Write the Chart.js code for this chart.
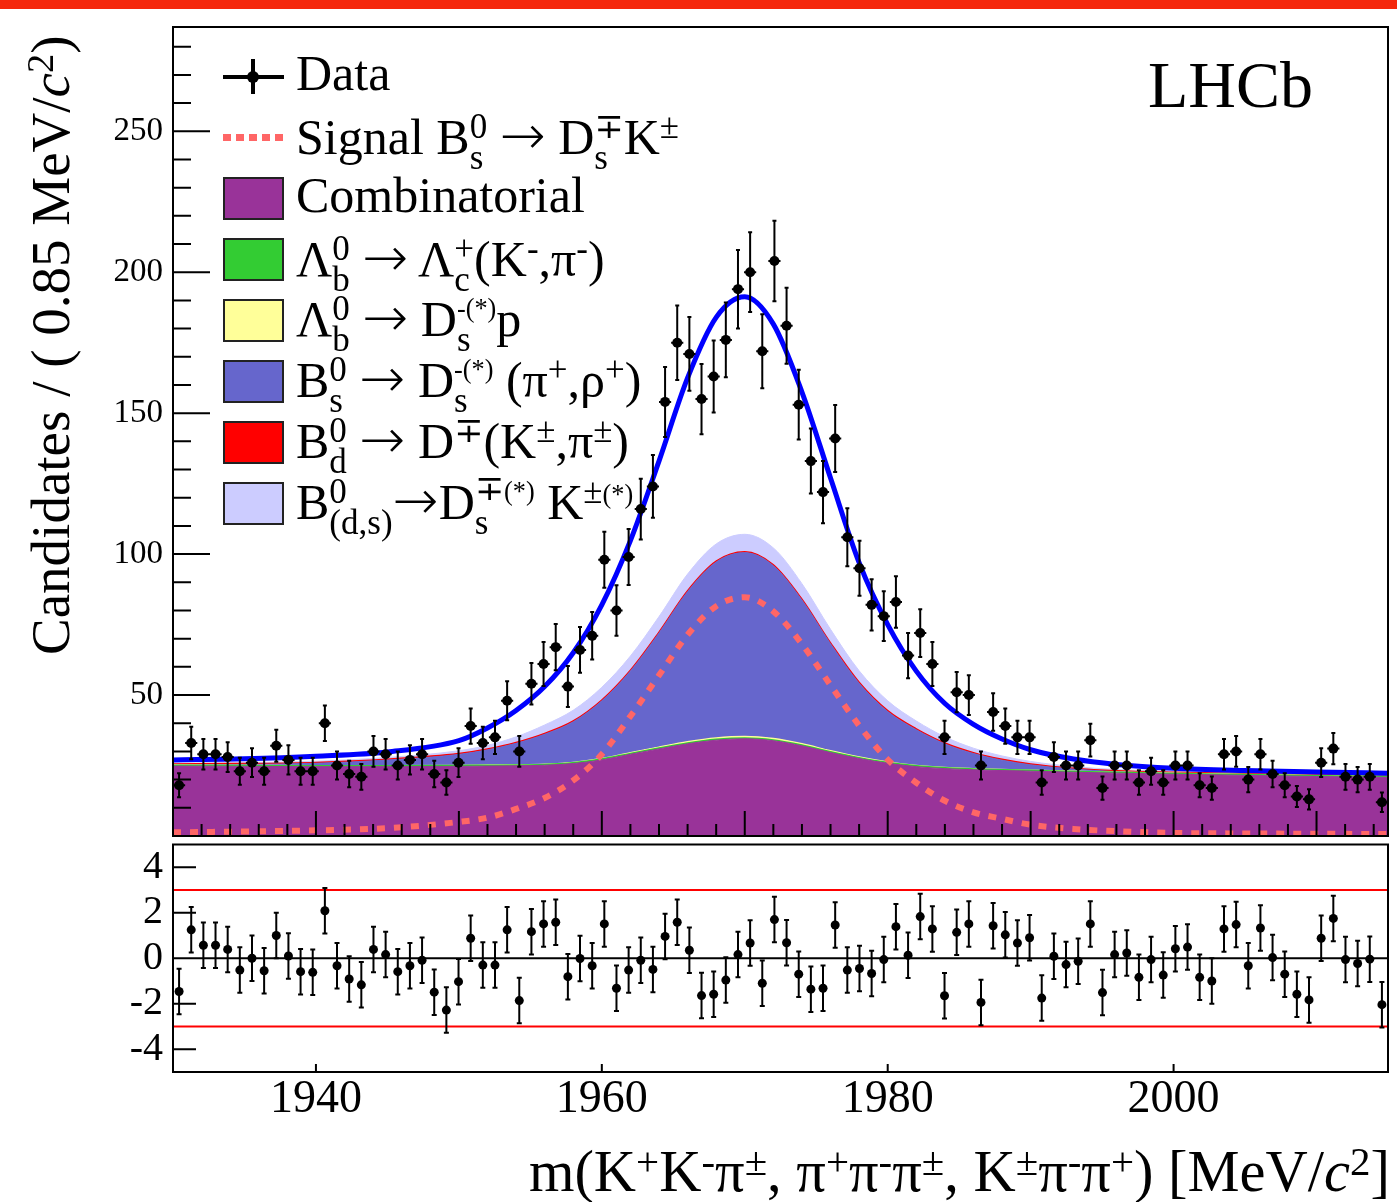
<!DOCTYPE html>
<html>
<head>
<meta charset="utf-8">
<title>LHCb - m(KKpi) fit</title>
<script src="https://cdn.jsdelivr.net/npm/chart.js@4.4.1/dist/chart.umd.min.js"></script>
<style>
  body { margin: 0; width: 1397px; height: 1202px; position: relative; overflow: hidden; background: #fff;
         font-family: 'Liberation Serif', 'DejaVu Serif', serif; color: #000; }
  canvas { position: absolute; left: 0; }
  #topBar { position: absolute; left: 0; top: 0; width: 1397px; height: 9px; background: #f5280c; }
  .row { position: absolute; left: 296px; font-size: 50px; line-height: 100px; white-space: nowrap; }
  .ss { display: inline-block; font-size: 0.7em; line-height: 31px; vertical-align: -15px; }
  .sp { font-size: 0.7em; vertical-align: 16px; line-height: 0; }
  .tiny { font-size: 0.75em; }
  .arr { font-family: 'DejaVu Sans', sans-serif; font-size: 1.1em; font-weight: 200; }
  .sw { position: absolute; left: 223px; width: 57px; height: 39px; border: 2px solid #222; }
  .blk { position: absolute; background: #000; }
  #ytitle { position: absolute; left: 1px; top: 655px; font-size: 55px; line-height: 100px; white-space: nowrap;
            transform-origin: 0 0; transform: rotate(-90deg); }
  #xtitle { position: absolute; right: 7px; top: 1122px; font-size: 58.5px; line-height: 100px; white-space: nowrap; }
  #lhcb { position: absolute; left: 1148px; top: 35px; font-size: 66px; line-height: 100px; }
</style>
</head>
<body>
<div id="topBar"></div>
<canvas id="massChart" width="1397" height="841" style="top:0"></canvas>
<canvas id="pullChart" width="1397" height="362" style="top:840px"></canvas>

<!-- legend -->
<div class="blk" style="left:223px;top:75px;width:61px;height:4px"></div>
<div class="blk" style="left:251px;top:59px;width:4px;height:35px"></div>
<div class="blk" style="left:247px;top:71px;width:12px;height:12px;border-radius:6px"></div>
<div style="position:absolute;left:223px;top:134px;width:61px;height:7px;background:repeating-linear-gradient(90deg,#ff6666 0 8px,transparent 8px 13px)"></div>
<div class="sw" style="top:177px;background:#993399"></div>
<div class="sw" style="top:238px;background:#33cc33"></div>
<div class="sw" style="top:299px;background:#ffff99"></div>
<div class="sw" style="top:360px;background:#6666cc"></div>
<div class="sw" style="top:421px;background:#ff0000"></div>
<div class="sw" style="top:482px;background:#ccccff"></div>

<div class="row" style="top:23px">Data</div>
<div class="row" style="top:85px">Signal B<span class="ss">0<br>s</span> <span class="arr">&#8594;</span> D<span class="ss">&#8723;<br>s</span>K<span class="sp">&#177;</span></div>
<div class="row" style="top:145px">Combinatorial</div>
<div class="row" style="top:207px">&#923;<span class="ss">0<br>b</span> <span class="arr">&#8594;</span> &#923;<span class="ss">+<br>c</span>(K<span class="sp">-</span>,&#960;<span class="sp">-</span>)</div>
<div class="row" style="top:267px">&#923;<span class="ss">0<br>b</span> <span class="arr">&#8594;</span> D<span class="ss"><span class="tiny">-(*)</span><br>s</span>p</div>
<div class="row" style="top:328px">B<span class="ss">0<br>s</span> <span class="arr">&#8594;</span> D<span class="ss"><span class="tiny">-(*)</span><br>s</span> (&#960;<span class="sp">+</span>,&#961;<span class="sp">+</span>)</div>
<div class="row" style="top:389px">B<span class="ss">0<br>d</span> <span class="arr">&#8594;</span> D<span class="sp">&#8723;</span>(K<span class="sp">&#177;</span>,&#960;<span class="sp">&#177;</span>)</div>
<div class="row" style="top:450px">B<span class="ss">0<br>(d,s)</span><span class="arr">&#8594;</span>D<span class="ss">&#8723;<span class="tiny">(*)</span><br>s</span> K<span class="sp">&#177;<span class="tiny">(*)</span></span></div>

<div id="lhcb">LHCb</div>
<div id="ytitle">Candidates / ( 0.85 MeV/<i>c</i><span class="sp">2</span>)</div>
<div id="xtitle">m(K<span class="sp">+</span>K<span class="sp">-</span>&#960;<span class="sp">&#177;</span>, &#960;<span class="sp">+</span>&#960;<span class="sp">-</span>&#960;<span class="sp">&#177;</span>, K<span class="sp">&#177;</span>&#960;<span class="sp">-</span>&#960;<span class="sp">+</span>) [MeV/<i>c</i><span class="sp">2</span>]</div>

<script>
// histogram binning
const massLow = 1930, massHigh = 2015, binWidth = 0.85;

// candidates per 0.85 MeV bin
const counts = [18, 33, 29, 29, 28, 23, 26, 23, 32, 27,
                23, 23, 40, 25, 22, 21, 30, 29, 25, 27,
                29, 22, 19, 26, 39, 33, 35, 48, 30, 54,
                61, 67, 53, 66, 71, 98, 80, 99, 116, 124,
                154, 175, 171, 155, 163, 176, 194, 200, 172, 204,
                181, 153, 133, 122, 141, 106, 95, 82, 78, 83,
                64, 72, 61, 35, 51, 50, 25, 44, 39, 35,
                35, 19, 28, 25, 25, 34, 17, 25, 25, 19,
                23, 19, 25, 25, 18, 17, 29, 30, 20, 29,
                22, 18, 14, 13, 26, 31, 21, 20, 21, 12];

// pull per bin
const pulls = [-1.46, 1.25, 0.57, 0.57, 0.39, -0.52, 0.0, -0.55, 1.0, 0.10,
               -0.59, -0.62, 2.09, -0.33, -0.91, -1.17, 0.39, 0.16, -0.59, -0.33,
               -0.09, -1.49, -2.28, -1.03, 0.88, -0.30, -0.30, 1.25, -1.86, 1.17,
               1.51, 1.58, -0.81, -0.01, -0.33, 1.51, -1.32, -0.52, -0.09, -0.49,
               0.96, 1.58, 0.35, -1.64, -1.58, -0.96, 0.16, 0.67, -1.10, 1.70,
               0.68, -0.70, -1.36, -1.32, 1.46, -0.52, -0.45, -0.67, -0.06, 1.39,
               0.13, 1.83, 1.29, -1.65, 1.14, 1.51, -1.94, 1.43, 1.03, 0.67,
               0.90, -1.75, 0.09, -0.28, -0.13, 1.51, -1.51, 0.16, 0.23, -0.84,
               -0.06, -0.74, 0.42, 0.49, -0.84, -1.00, 1.29, 1.48, -0.33, 1.33,
               0.03, -0.70, -1.58, -1.83, 0.88, 1.75, -0.06, -0.23, -0.04, -2.04];

// fit components, sampled at these masses
const curveMass = [1930, 1935, 1940, 1945, 1950, 1952, 1954, 1956, 1958, 1960,
                   1962, 1964, 1966, 1968, 1970, 1972, 1974, 1976, 1978, 1980,
                   1982, 1984, 1986, 1988, 1990, 1993, 1996, 2000, 2005, 2010, 2015];
const combinatorial = [24.8, 24.7, 24.6, 24.6, 24.7, 24.8, 24.9, 25.1, 25.7, 27.0,
                       29.0, 30.9, 32.7, 34.0, 34.5, 33.8, 32.0, 29.6, 27.5, 25.8,
                       24.6, 23.9, 23.5, 23.2, 23.0, 22.6, 22.3, 21.9, 21.5, 21.1, 20.8];
const lambdaLc = [0.3, 0.3, 0.3, 0.3, 0.3, 0.3, 0.3, 0.3, 0.3, 0.3,
                  0.3, 0.3, 0.3, 0.3, 0.3, 0.3, 0.3, 0.3, 0.3, 0.3,
                  0.3, 0.3, 0.3, 0.3, 0.3, 0.3, 0.3, 0.3, 0.3, 0.3, 0.3];
const lambdaDsp = [0.05, 0.05, 0.05, 0.05, 0.05, 0.06, 0.07, 0.09, 0.12, 0.17,
                   0.24, 0.33, 0.42, 0.5, 0.53, 0.5, 0.42, 0.32, 0.23, 0.16,
                   0.11, 0.08, 0.06, 0.05, 0.05, 0.04, 0.04, 0.04, 0.04, 0.04, 0.04];
const bsDsPi = [0.1, 0.35, 0.85, 2.0, 3.9, 5.4, 7.6, 10.6, 14.4, 20.5,
                29.0, 40.5, 53.3, 62.4, 65.2, 61.3, 51.0, 38.0, 26.2, 17.9,
                12.7, 8.4, 5.4, 3.35, 1.9, 0.8, 0.2, 0.05, 0, 0, 0];
const bdD = [0.3, 0.3, 0.3, 0.3, 0.3, 0.3, 0.3, 0.3, 0.3, 0.3,
             0.3, 0.3, 0.3, 0.3, 0.3, 0.3, 0.3, 0.3, 0.3, 0.3,
             0.3, 0.3, 0.3, 0.3, 0.3, 0.3, 0.3, 0.3, 0.3, 0.3, 0.3];
const bdsDsK = [0.3, 0.35, 0.45, 0.6, 1.0, 1.3, 2.0, 3.0, 3.8, 4.5,
                5.0, 5.5, 5.9, 6.1, 6.2, 6.0, 5.5, 4.8, 4.1, 3.5,
                2.8, 2.2, 1.6, 1.2, 0.9, 0.6, 0.45, 0.35, 0.3, 0.25, 0.2];
const signal = [1.3, 1.6, 2.0, 2.8, 5.0, 6.5, 9.6, 13.5, 19.7, 29.0,
                42.5, 57.0, 71.4, 81.5, 84.7, 79.7, 68.1, 53.5, 39.2, 27.1,
                18.9, 12.5, 8.4, 6.1, 4.0, 2.5, 1.7, 1.1, 0.9, 0.8, 0.7];
const totalFit = [27.0, 27.4, 28.3, 29.8, 33.8, 38.3, 44.5, 53.0, 65.0, 82.0,
                  104.8, 133.0, 162.5, 184.0, 191.3, 181.6, 157.5, 127.0, 97.0, 75.0,
                  58.5, 47.0, 39.6, 34.4, 30.6, 27.3, 25.4, 24.0, 23.2, 22.7, 22.3];

// axis ticks
const yTicksMain = [50, 100, 150, 200, 250];
const yTicksPull = [-4, -2, 0, 2, 4];
const xTicks = [1940, 1960, 1980, 2000];
const pullLimits = [-3, 3];

Chart.defaults.font.family = "'Liberation Serif', serif";
Chart.defaults.color = '#000';

const range = (a, b, step) => { const r = []; for (let v = a; v <= b + 1e-9; v += step) r.push(v); return r; };
const curve = vals => curveMass.map((m, i) => ({x: m, y: vals[i]}));
const binCenters = counts.map((_, i) => massLow + binWidth * (i + 0.5));

// vertical (and optional horizontal) error bars for point datasets
const errorBars = {
    id: 'errorBars',
    afterDatasetsDraw(chart) {
        const {ctx} = chart;
        const x = chart.scales.x, y = chart.scales.y;
        chart.data.datasets.forEach((ds, di) => {
            if (!ds.errorBars) return;
            const eb = ds.errorBars;
            const meta = chart.getDatasetMeta(di);
            ctx.save();
            ctx.strokeStyle = '#000';
            ctx.lineWidth = 2;
            ctx.beginPath();
            meta.data.forEach((pt, i) => {
                const v = ds.data[i];
                const hi = y.getPixelForValue(v.y + eb.err[i]);
                const lo = y.getPixelForValue(v.y - eb.err[i]);
                ctx.moveTo(pt.x, hi); ctx.lineTo(pt.x, lo);
                ctx.moveTo(pt.x - eb.cap, hi); ctx.lineTo(pt.x + eb.cap, hi);
                ctx.moveTo(pt.x - eb.cap, lo); ctx.lineTo(pt.x + eb.cap, lo);
                if (eb.halfWidth) {
                    ctx.moveTo(x.getPixelForValue(v.x - eb.halfWidth), pt.y);
                    ctx.lineTo(x.getPixelForValue(v.x + eb.halfWidth), pt.y);
                }
            });
            ctx.stroke();
            ctx.restore();
        });
    }
};

// ROOT style frame with inward ticks
const frame = {
    id: 'frame',
    afterDraw(chart, args, o) {
        const {ctx, chartArea: a} = chart;
        const x = chart.scales.x, y = chart.scales.y;
        ctx.save();
        ctx.strokeStyle = '#000';
        ctx.lineWidth = 2;
        ctx.beginPath();
        (o.yTicks || []).forEach(([vals, len]) => vals.forEach(v => {
            const p = y.getPixelForValue(v);
            ctx.moveTo(a.left, p); ctx.lineTo(a.left + len, p);
        }));
        (o.xTicks || []).forEach(([vals, len]) => vals.forEach(v => {
            const p = x.getPixelForValue(v);
            ctx.moveTo(p, a.bottom); ctx.lineTo(p, a.bottom - len);
        }));
        ctx.stroke();
        ctx.strokeRect(a.left, a.top, a.right - a.left, a.bottom - a.top);
        ctx.restore();
    }
};

// keep the plot area exactly where the layout padding puts it
const noLabelPadding = s => { s.paddingTop = 0; s.paddingBottom = 0; s.paddingLeft = 0; s.paddingRight = 0; };

function area(label, vals, color, order, fill, border) {
    return {
        label: label, data: curve(vals), stack: 'bkg', order: order, fill: fill,
        backgroundColor: color, borderColor: border || color, borderWidth: border ? 1.5 : 1,
        pointRadius: 0, cubicInterpolationMode: 'monotone'
    };
}

// Mass fit panel
new Chart(document.getElementById('massChart'), {
    type: 'line',
    data: {
        datasets: [
            area('Combinatorial', combinatorial, '#993399', 3, 'origin'),
            area('Lb -> Lc(K,pi)', lambdaLc, '#33cc33', 4, '-1', '#33cc33'),
            area('Lb -> Ds p', lambdaDsp, '#ffff99', 5, '-1', '#ffff99'),
            area('Bs -> Ds(pi,rho)', bsDsPi, '#6666cc', 6, '-1'),
            area('Bd -> D(K,pi)', bdD, '#ff0000', 7, '-1', '#ff0000'),
            area('B(d,s) -> Ds* K*', bdsDsK, '#ccccff', 8, '-1'),
            {
                label: 'Signal', data: curve(signal), stack: 'sig', order: 2, fill: false,
                borderColor: '#ff6666', borderWidth: 6, borderDash: [8, 9], pointRadius: 0,
                cubicInterpolationMode: 'monotone'
            },
            {
                label: 'Total', data: curve(totalFit), stack: 'tot', order: 1, fill: false,
                borderColor: '#0000ff', borderWidth: 5, pointRadius: 0,
                cubicInterpolationMode: 'monotone'
            },
            {
                label: 'Data', data: binCenters.map((m, i) => ({x: m, y: counts[i]})), stack: 'data', order: 0,
                showLine: false, pointRadius: 5, pointBackgroundColor: '#000', pointBorderWidth: 0,
                errorBars: {err: counts.map(n => Math.sqrt(n)), cap: 2, halfWidth: binWidth / 2}
            }
        ]
    },
    options: {
        responsive: false,
        animation: false,
        layout: {padding: {left: 0, right: 9, top: 27, bottom: 2}},
        plugins: {
            legend: {display: false},
            tooltip: {enabled: false},
            frame: {
                yTicks: [[[0].concat(yTicksMain), 37], [range(10, 280, 10).filter(v => v % 50), 18]],
                xTicks: [[range(1940, 2010, 10), 25], [range(1932, 2014, 2).filter(v => v % 10), 12]]
            }
        },
        scales: {
            x: {type: 'linear', min: massLow, max: massHigh, display: false},
            y: {
                type: 'linear', min: 0, max: 287, stacked: true,
                grid: {display: false, drawTicks: false}, border: {display: false},
                ticks: {font: {size: 33}, color: '#000', padding: 10, autoSkip: false},
                afterBuildTicks: s => { s.ticks = yTicksMain.map(v => ({value: v})); },
                afterFit: s => { s.width = 173; noLabelPadding(s); }
            }
        }
    },
    plugins: [errorBars, frame]
});

// Pull panel
new Chart(document.getElementById('pullChart'), {
    type: 'line',
    data: {
        datasets: [
            {
                label: 'Pull', data: binCenters.map((m, i) => ({x: m, y: pulls[i]})), order: 0,
                showLine: false, pointRadius: 4.5, pointBackgroundColor: '#000', pointBorderWidth: 0,
                errorBars: {err: pulls.map(() => 1), cap: 2.5}
            },
            {
                label: 'zero', data: [{x: massLow, y: 0}, {x: massHigh, y: 0}], order: 1,
                borderColor: '#000', borderWidth: 2, pointRadius: 0
            },
            {
                label: '-3', data: [{x: massLow, y: pullLimits[0]}, {x: massHigh, y: pullLimits[0]}], order: 1,
                borderColor: '#ff0000', borderWidth: 2, pointRadius: 0
            },
            {
                label: '+3', data: [{x: massLow, y: pullLimits[1]}, {x: massHigh, y: pullLimits[1]}], order: 1,
                borderColor: '#ff0000', borderWidth: 2, pointRadius: 0
            }
        ]
    },
    options: {
        responsive: false,
        animation: false,
        layout: {padding: {left: 0, right: 9, top: 2, bottom: 0}},
        plugins: {
            legend: {display: false},
            tooltip: {enabled: false},
            frame: {
                yTicks: [[[-4, -2, 2, 4], 23]],
                xTicks: [[xTicks, 8]]
            }
        },
        scales: {
            x: {
                type: 'linear', min: massLow, max: massHigh,
                grid: {display: false, drawTicks: false}, border: {display: false},
                ticks: {font: {size: 46}, color: '#000', padding: 0, maxRotation: 0, autoSkip: false,
                        callback: v => String(v)},
                afterBuildTicks: s => { s.ticks = xTicks.map(v => ({value: v})); },
                afterFit: s => { s.height = 130; noLabelPadding(s); }
            },
            y: {
                type: 'linear', min: -5, max: 5,
                grid: {display: false, drawTicks: false}, border: {display: false},
                ticks: {font: {size: 40}, color: '#000', padding: 10, autoSkip: false},
                afterBuildTicks: s => { s.ticks = yTicksPull.map(v => ({value: v})); },
                afterFit: s => { s.width = 173; noLabelPadding(s); }
            }
        }
    },
    plugins: [errorBars, frame]
});
</script>
</body>
</html>
